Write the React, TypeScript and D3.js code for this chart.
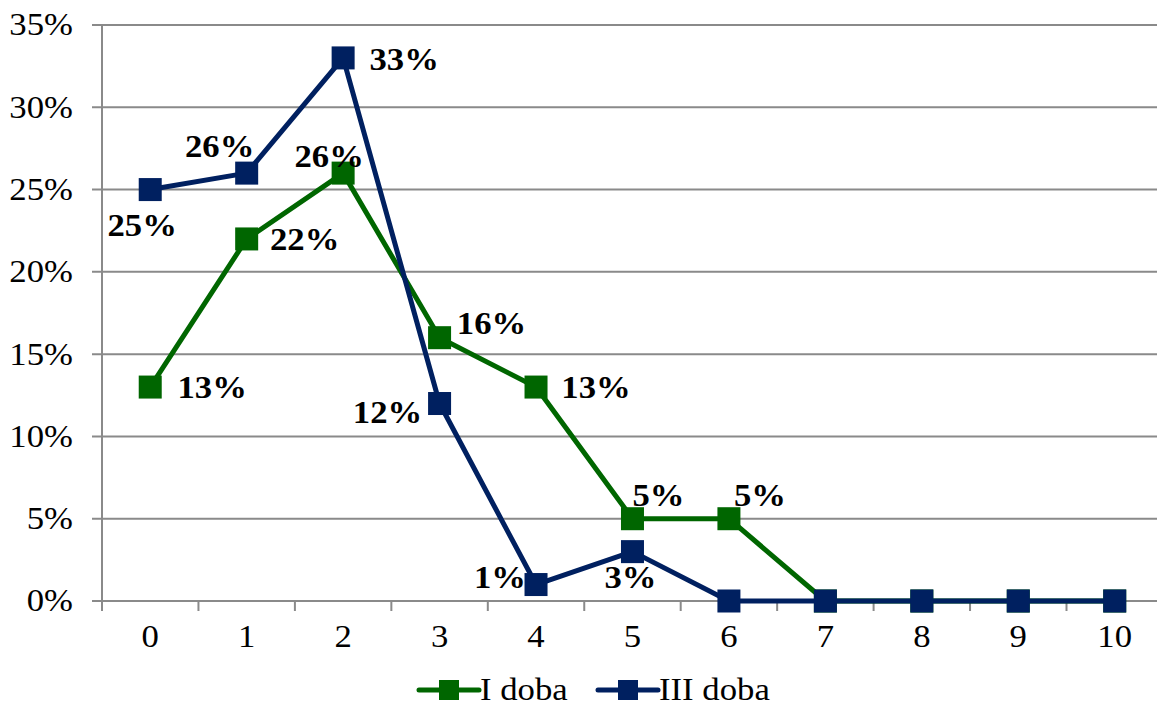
import React from "react";
import * as d3 from "d3";

const categories = ["0", "1", "2", "3", "4", "5", "6", "7", "8", "9", "10"];
const seriesI = [0.13, 0.22, 0.26, 0.16, 0.13, 0.05, 0.05, 0, 0, 0, 0];
const seriesIII = [0.25, 0.26, 0.33, 0.12, 0.01, 0.03, 0, 0, 0, 0, 0];
const labelsI = ["13%", "22%", "26%", "16%", "13%", "5%", "5%", "", "", "", ""];
const labelsIII = ["25%", "26%", "33%", "12%", "1%", "3%", "", "", "", "", ""];
const yTicks = [0, 0.05, 0.1, 0.15, 0.2, 0.25, 0.3, 0.35];
const seriesNames = ["I doba", "III doba"];

// label placement offsets (center of text relative to the point)
const offI: [number, number][] = [[62, 1], [58, 1], [-14, -16], [52, -14], [60, 1], [26, -23], [31, -23]];
const offIII: [number, number][] = [[-8, 36], [-27, -26], [61, 2], [-52, 9], [-36, -7], [-2, 26]];

const W = 1157, H = 713;
const left = 102, right = 102 + 11 * 96.45;
const y0 = 601, yTop = 25;
const GREEN = "#006600";
const BLUE = "#002060";
const GRID = "#8a8a8a";
const SX = 1.12;
const FS = 31;
const FONT = "'Liberation Serif', 'Times New Roman', serif";

export default function App() {
  const x = d3.scaleBand<string>().domain(categories).range([left, right]).padding(0);
  const y = d3.scaleLinear().domain([0, 0.35]).range([y0, yTop]);
  const cx = (i: number) => (x(categories[i]) as number) + x.bandwidth() / 2;
  const line = d3.line<number>().x((_, i) => cx(i)).y((d) => y(d));
  const M = 23;

  const sText = (tx: number, ty: number, txt: string, opts: any = {}) => (
    <g transform={`translate(${tx},${ty}) scale(${SX},1)`}>
      <text
        x={0}
        y={0}
        textAnchor={opts.anchor || "middle"}
        dominantBaseline="central"
        fontFamily={FONT}
        fontSize={opts.size || FS}
        fontWeight={opts.bold ? "bold" : "normal"}
        fill="#000"
      >
        {txt}
      </text>
    </g>
  );

  const series = [
    { vals: seriesI, color: GREEN, labels: labelsI, off: offI },
    { vals: seriesIII, color: BLUE, labels: labelsIII, off: offIII },
  ];

  return (
    <svg width={W} height={H} style={{ position: "absolute", left: 0, top: 0, display: "block", background: "#fff" }}>
      <rect x={0} y={0} width={W} height={H} fill="#fff" />
      {yTicks.map((t) => (
        <g key={t}>
          <line x1={left - 10} x2={right} y1={y(t)} y2={y(t)} stroke={GRID} strokeWidth={2} />
          {sText(73, y(t), d3.format(".0%")(t), { anchor: "end" })}
        </g>
      ))}
      <line x1={left} x2={left} y1={yTop} y2={y0 + 10} stroke={GRID} strokeWidth={2} />
      {categories.map((c) => (
        <line key={"t" + c} x1={x(c) as number} x2={x(c) as number} y1={y0} y2={y0 + 10} stroke={GRID} strokeWidth={2} />
      ))}
      {categories.map((c, i) => (
        <g key={"l" + c}>{sText(cx(i), 637, c)}</g>
      ))}
      {series.map((s, si) => (
        <g key={si}>
          <path d={line(s.vals) as string} fill="none" stroke={s.color} strokeWidth={5} strokeLinejoin="round" />
          {s.vals.map((v, i) => (
            <rect key={i} x={cx(i) - M / 2} y={y(v) - M / 2} width={M} height={M} fill={s.color} />
          ))}
        </g>
      ))}
      {series.map((s, si) => (
        <g key={"lab" + si}>
          {s.labels.map((lab, i) =>
            lab ? <g key={i}>{sText(cx(i) + s.off[i][0], y(s.vals[i]) + s.off[i][1], lab, { bold: true })}</g> : null
          )}
        </g>
      ))}
      {[
        { x0: 419, color: GREEN, name: seriesNames[0] },
        { x0: 598, color: BLUE, name: seriesNames[1] },
      ].map((l) => (
        <g key={l.name}>
          <line x1={l.x0} x2={l.x0 + 60} y1={690} y2={690} stroke={l.color} strokeWidth={5} strokeLinecap="round" />
          <rect x={l.x0 + 20} y={680} width={20} height={20} fill={l.color} />
          {sText(l.x0 + 61, 690, l.name, { anchor: "start" })}
        </g>
      ))}
    </svg>
  );
}
